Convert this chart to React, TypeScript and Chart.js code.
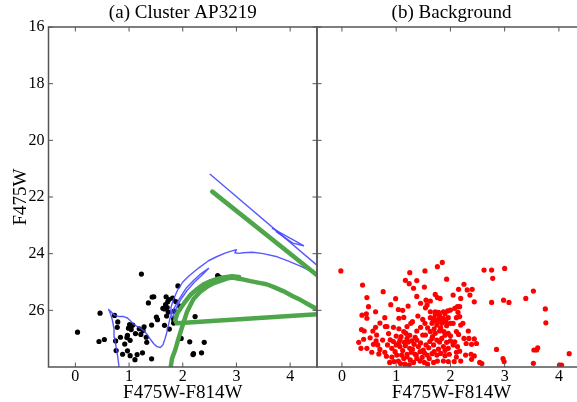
import React, { useEffect, useRef } from 'react';
import { Chart, registerables } from 'chart.js';

Chart.register(...registerables);

const FONT = "'Liberation Serif', 'Times New Roman', serif";
const SPINE = '#555555';

const panelTitles = ['(a) Cluster AP3219', '(b) Background'];
const xAxisTitle = 'F475W-F814W';
const yAxisTitle = 'F475W';
const xTickValues = [0, 1, 2, 3, 4];
const yTickValues = [16, 18, 20, 22, 24, 26];

// Cluster stars (colour, magnitude)
const clusterStars = [
  [0.04, 26.77], [0.46, 26.1], [0.44, 27.1], [0.54, 27.03], [0.73, 26.18], [0.79, 26.41],
  [0.78, 26.6], [0.75, 27.08], [0.76, 27.42], [0.84, 26.95], [0.88, 27.55], [0.97, 27.43],
  [0.92, 27.19], [0.97, 26.88], [0.96, 26.96], [1.02, 27.06], [1.04, 26.55], [1.01, 26.5],
  [1.07, 26.52], [0.99, 26.63], [1.04, 26.68], [1.12, 26.82], [1.02, 27.6], [1.11, 27.74],
  [1.15, 27.56], [1.25, 27.5], [1.19, 26.65], [1.26, 26.71], [1.28, 26.58], [1.22, 26.85],
  [1.32, 26.95], [1.33, 27.13], [1.42, 26.52], [1.42, 27.71], [1.23, 24.72], [1.36, 25.74],
  [1.43, 25.53], [1.46, 25.52], [1.51, 26.24], [1.53, 26.33], [1.63, 25.93], [1.66, 26.53],
  [1.69, 25.52], [1.68, 25.8], [1.72, 25.7], [1.74, 25.62], [1.73, 26.06], [1.75, 26.66],
  [1.83, 26.3], [1.84, 26.38], [1.83, 26.45], [1.87, 25.69], [1.81, 25.57], [1.91, 25.14],
  [1.94, 25.85], [1.97, 26.99], [2.65, 24.77], [2.69, 24.84], [2.23, 26.22], [2.13, 27.11],
  [2.4, 27.13], [2.2, 27.53], [2.19, 27.56], [2.35, 27.5], [1.66, 25.95], [1.71, 25.9],
  [1.84, 26.03], [1.7, 26.2],
];

// Isochrone 1 (thin blue)
const blueMain = [
  [0.82, 28.1], [0.79, 27.64], [0.76, 27.3], [0.73, 26.95], [0.72, 26.65], [0.69, 26.35],
  [0.66, 26.15], [0.62, 25.97], [0.68, 26.08], [0.74, 26.18], [0.82, 26.22], [0.9, 26.22],
  [0.97, 26.27], [1.03, 26.38], [1.09, 26.5], [1.15, 26.57], [1.22, 26.64], [1.28, 26.73],
  [1.34, 26.86], [1.4, 27.03], [1.46, 27.18], [1.52, 27.28], [1.58, 27.31], [1.63, 27.22],
  [1.67, 27.0], [1.7, 26.8], [1.73, 26.55], [1.76, 26.3], [1.8, 26.1], [1.86, 25.85],
  [1.95, 25.55], [2.07, 25.2], [2.2, 24.95], [2.33, 24.72], [2.48, 24.52], [2.38, 24.72],
  [2.22, 25.0], [2.08, 25.3], [1.97, 25.6], [1.9, 25.85], [1.85, 26.05], [1.82, 26.25],
  [1.78, 26.15], [1.78, 25.9], [1.83, 25.6], [1.9, 25.3], [2.0, 25.0], [2.12, 24.78],
  [2.3, 24.5], [2.48, 24.25], [2.64, 24.1], [2.8, 23.97], [2.92, 23.9], [3.0, 23.86],
  [2.97, 23.97], [3.05, 23.99], [3.12, 23.97], [3.3, 23.95], [3.5, 24.0], [3.76, 24.11],
  [3.97, 24.26], [4.19, 24.44], [4.48, 24.7], [4.6, 24.8],
];
const blueUpper = [[2.51, 21.2], [4.6, 24.57]];
const blueLoop = [[3.67, 23.11], [4.25, 23.72], [4.05, 23.63], [3.74, 23.22]];

// Isochrone 2 (thick green)
const greenMain = [
  [1.76, 28.2], [1.8, 27.7], [1.86, 27.4], [1.92, 27.0], [1.97, 26.7], [2.02, 26.4],
  [2.08, 26.05], [2.2, 25.6], [2.32, 25.35], [2.45, 25.17], [2.58, 25.04], [2.7, 24.96],
  [2.82, 24.88], [2.92, 24.84], [3.1, 24.9], [3.26, 24.97], [3.45, 25.04], [3.56, 25.08],
  [3.7, 25.18], [3.88, 25.33], [4.05, 25.5], [4.19, 25.63], [4.35, 25.8], [4.5, 25.96],
  [4.6, 26.06],
];
const greenBranch = [
  [4.6, 26.13], [1.89, 26.46], [1.86, 26.35], [1.9, 26.1], [1.96, 25.93], [2.05, 25.68],
  [2.14, 25.46], [2.26, 25.26], [2.39, 25.08], [2.52, 24.97], [2.64, 24.89], [2.78, 24.83],
  [2.92, 24.8], [3.05, 24.82],
];
const greenUpper = [[2.55, 21.81], [4.6, 24.91]];

// Background field stars
const bgBright = [
  [-0.02, 24.61], [1.85, 24.31], [1.76, 24.46], [1.53, 24.61], [1.25, 24.67], [1.93, 24.9],
  [1.17, 24.94], [1.38, 24.95], [1.24, 25.06], [0.38, 25.11], [1.52, 25.18], [1.32, 25.22],
  [0.76, 25.34], [1.72, 25.44], [1.38, 25.51], [0.46, 25.55], [1.76, 25.55], [1.81, 25.58],
  [0.99, 25.59], [1.63, 25.67], [1.55, 25.64], [1.57, 25.81], [0.49, 25.87], [1.54, 25.91],
  [1.04, 25.97], [1.12, 26.0], [1.22, 25.85], [1.45, 25.75], [0.9, 25.8], [0.62, 26.05],
  [2.62, 24.58], [2.76, 24.58], [3.0, 24.52], [2.78, 24.87], [2.25, 25.08], [2.15, 25.26],
  [2.31, 25.28], [2.4, 25.26], [2.05, 25.46], [2.19, 25.58], [2.36, 25.46], [2.44, 25.7],
  [2.76, 25.72], [2.98, 25.64], [3.08, 25.72], [3.39, 25.58], [3.53, 25.32], [3.75, 25.95],
];
const bgClump = [
  [1.63, 26.05], [1.72, 26.05], [1.78, 26.07], [1.87, 26.05], [1.95, 26.02], [2.0, 25.99],
  [0.37, 26.17], [0.45, 26.12], [0.46, 26.28], [0.79, 26.26], [1.05, 26.28], [1.14, 26.25],
  [1.49, 26.32], [1.63, 26.26], [1.69, 26.28], [1.78, 26.31], [1.87, 26.28], [1.96, 26.26],
  [0.8, 26.57], [0.83, 26.57], [1.2, 26.57], [1.27, 26.46], [1.53, 26.46], [1.66, 26.46],
  [1.75, 26.52], [1.84, 26.46], [1.93, 26.54], [2.0, 26.46], [1.72, 26.15], [1.8, 26.18],
  [1.9, 26.12], [1.68, 26.38], [1.76, 26.4], [1.85, 26.38], [1.92, 26.4], [1.4, 26.2],
  [1.3, 26.4], [0.7, 26.45], [2.13, 25.87], [2.17, 25.87], [2.08, 25.93], [2.14, 26.07],
  [2.17, 26.22], [2.11, 26.26], [2.05, 26.46], [2.19, 26.52], [2.23, 26.46], [3.76, 26.44],
];
const bgMiddle = [
  [0.36, 26.68], [0.41, 26.73], [0.57, 26.73], [1.14, 26.75], [1.18, 26.81], [1.38, 26.73],
  [1.63, 26.75], [1.72, 26.81], [1.8, 26.73], [1.88, 26.75], [1.96, 26.81], [0.64, 26.87],
  [0.86, 26.82], [1.0, 26.91], [1.09, 26.93], [1.49, 26.87], [1.54, 26.87], [1.67, 26.93],
  [0.52, 26.97], [0.31, 27.13], [0.63, 27.08], [0.89, 27.04], [1.07, 27.05], [1.15, 27.13],
  [1.2, 26.99], [1.29, 27.08], [1.38, 27.05], [1.66, 26.99], [1.75, 27.05], [1.84, 26.99],
  [1.93, 27.13], [2.0, 27.08], [1.05, 26.65], [0.95, 26.6], [1.25, 26.88], [1.35, 26.95],
  [1.45, 26.6], [1.58, 26.62], [1.7, 26.65], [1.82, 26.62], [1.9, 26.88], [2.0, 26.9],
  [0.62, 26.6], [0.4, 27.02], [0.95, 27.1], [1.05, 27.15], [1.22, 27.12], [1.45, 27.15],
  [0.75, 27.05], [1.8, 27.12], [1.62, 27.1], [2.11, 26.75], [2.15, 26.85], [2.33, 26.73],
  [2.25, 26.99], [2.34, 26.99], [2.44, 27.01], [2.48, 27.17], [2.29, 27.17], [2.39, 27.2],
  [2.08, 27.11],
];
const bgFaint = [
  [0.35, 27.34], [0.46, 27.34], [0.66, 27.22], [0.84, 27.22], [0.92, 27.34], [1.0, 27.22],
  [1.07, 27.28], [1.17, 27.25], [1.25, 27.34], [1.33, 27.2], [1.41, 27.28], [1.5, 27.4],
  [1.6, 27.32], [1.69, 27.22], [1.78, 27.37], [1.87, 27.28], [1.96, 27.34], [0.68, 27.54],
  [0.79, 27.48], [0.98, 27.46], [1.01, 27.58], [1.1, 27.58], [1.2, 27.55], [1.28, 27.48],
  [1.37, 27.58], [1.44, 27.46], [1.57, 27.58], [1.66, 27.53], [1.75, 27.58], [1.82, 27.52],
  [1.9, 27.6], [1.98, 27.55], [0.88, 27.84], [0.96, 27.81], [1.04, 27.79], [1.14, 27.7],
  [1.2, 27.64], [1.26, 27.75], [1.32, 27.84], [1.38, 27.7], [1.44, 27.79], [1.52, 27.84],
  [1.61, 27.7], [1.69, 27.84], [1.76, 27.79], [1.87, 27.79], [1.96, 27.81], [1.12, 27.42],
  [1.3, 27.38], [1.55, 27.22], [0.7, 27.38], [0.58, 27.2], [0.82, 27.62], [0.92, 27.65],
  [1.08, 27.88], [1.16, 27.9], [1.24, 27.92], [1.35, 27.55], [1.48, 27.66], [1.58, 27.9],
  [1.9, 27.42], [1.7, 27.46], [1.52, 27.5], [0.55, 27.48], [2.05, 27.22], [2.13, 27.28],
  [2.17, 27.44], [2.11, 27.48], [2.28, 27.58], [2.38, 27.55], [2.44, 27.61], [2.39, 27.73],
  [2.19, 27.79], [2.11, 27.65], [2.07, 27.81], [2.54, 27.84], [2.58, 27.88], [2.85, 27.38],
  [2.97, 27.7], [2.99, 27.81], [3.54, 27.4], [3.59, 27.4], [3.61, 27.32], [3.53, 27.87],
  [4.01, 27.93], [4.05, 27.93], [4.19, 27.53],
];

const toXY = (arr: number[][]) => arr.map(([x, y]) => ({ x, y }));

const framePlugin = {
  id: 'frame',
  afterDatasetsDraw(chart: any) {
    const { ctx, chartArea: a, scales } = chart;
    ctx.save();
    ctx.strokeStyle = SPINE;
    ctx.lineWidth = 1.5;
    ctx.strokeRect(a.left, a.top, a.right - a.left, a.bottom - a.top);
    ctx.lineWidth = 1;
    const L = 4.5;
    ctx.beginPath();
    for (const v of xTickValues) {
      const p = scales.x.getPixelForValue(v);
      ctx.moveTo(p, a.bottom); ctx.lineTo(p, a.bottom - L);
      ctx.moveTo(p, a.top); ctx.lineTo(p, a.top + L);
    }
    for (const v of yTickValues) {
      const p = scales.y.getPixelForValue(v);
      ctx.moveTo(a.left, p); ctx.lineTo(a.left + L, p);
      ctx.moveTo(a.right, p); ctx.lineTo(a.right - L, p);
    }
    ctx.stroke();
    ctx.restore();
  },
};

const lineDs = (data: number[][], color: string, width: number) => ({
  data: toXY(data),
  showLine: true,
  borderColor: color,
  borderWidth: width,
  pointRadius: 0,
  tension: 0,
  borderCapStyle: 'round',
  borderJoinStyle: 'round',
  clip: 0,
});

const pointDs = (data: number[][], color: string) => ({
  data: toXY(data),
  showLine: false,
  pointRadius: 2.6,
  pointBorderWidth: 0,
  pointBackgroundColor: color,
  backgroundColor: color,
  borderColor: color,
  clip: 0,
});

function makeOptions(title: string, showY: boolean, xMin: number, padLeft: number, padRight: number) {
  return {
    animation: false,
    responsive: false,
    maintainAspectRatio: false,
    events: [],
    layout: { autoPadding: false, padding: { left: padLeft, right: padRight, top: 0, bottom: 0 } },
    plugins: {
      legend: { display: false },
      tooltip: { enabled: false },
      title: {
        display: true,
        text: title,
        fullSize: false,
        color: '#000',
        font: { family: FONT, size: 19, weight: 'normal' },
        padding: { top: 2, bottom: 2.2 },
      },
    },
    scales: {
      x: {
        type: 'linear',
        min: xMin,
        max: 4.5,
        afterBuildTicks: (s: any) => { s.ticks = xTickValues.map((v) => ({ value: v })); },
        afterFit: (s: any) => { s.height = 43; },
        grid: { display: false, drawTicks: false },
        border: { display: false },
        ticks: { color: '#000', font: { family: FONT, size: 16 }, padding: 0, maxRotation: 0, autoSkip: false },
        title: {
          display: true,
          text: xAxisTitle,
          color: '#000',
          font: { family: FONT, size: 19, weight: 'normal' },
          padding: { top: 0, bottom: 6 },
        },
      },
      y: {
        type: 'linear',
        display: showY,
        reverse: true,
        min: 16,
        max: 28,
        afterBuildTicks: (s: any) => { s.ticks = yTickValues.map((v) => ({ value: v })); },
        afterFit: (s: any) => { s.width = showY ? 48.5 : 0; },
        grid: { display: false, drawTicks: false },
        border: { display: false },
        ticks: { color: '#000', font: { family: FONT, size: 16 }, padding: 4 },
        title: {
          display: true,
          text: yAxisTitle,
          color: '#000',
          font: { family: FONT, size: 19, weight: 'normal' },
          padding: { top: 9.5, bottom: 0 },
        },
      },
    },
  };
}

const GREEN = '#4ea64b';
const BLUE = 'rgba(70,70,255,0.9)';

export default function App() {
  const leftRef = useRef<HTMLCanvasElement>(null);
  const rightRef = useRef<HTMLCanvasElement>(null);

  useEffect(() => {
    const left = new Chart(leftRef.current as HTMLCanvasElement, {
      type: 'scatter',
      data: {
        datasets: [
          lineDs(greenMain, GREEN, 4.5),
          lineDs(greenBranch, GREEN, 4.5),
          lineDs(greenUpper, GREEN, 4.5),
          lineDs(blueMain, BLUE, 1.4),
          lineDs(blueUpper, BLUE, 1.4),
          lineDs(blueLoop, BLUE, 1.4),
          pointDs(clusterStars, '#000000'),
        ] as any,
      },
      options: makeOptions(panelTitles[0], true, -0.5, 0, 23) as any,
      plugins: [framePlugin],
    });
    const right = new Chart(rightRef.current as HTMLCanvasElement, {
      type: 'scatter',
      data: {
        datasets: [
          pointDs(bgBright, '#ff0000'),
          pointDs(bgClump, '#ff0000'),
          pointDs(bgMiddle, '#ff0000'),
          pointDs(bgFaint, '#ff0000'),
        ] as any,
      },
      options: makeOptions(panelTitles[1], false, -0.46, 17, 14) as any,
      plugins: [framePlugin],
    });
    return () => {
      left.destroy();
      right.destroy();
    };
  }, []);

  return (
    <div style={{ position: 'fixed', left: 0, top: 0, width: 577, height: 402, overflow: 'hidden', background: '#fff' }}>
      <canvas ref={leftRef} width={340} height={410} style={{ position: 'absolute', left: 0, top: 0, width: 340, height: 410 }} />
      <canvas ref={rightRef} width={300} height={410} style={{ position: 'absolute', left: 300, top: 0, width: 300, height: 410 }} />
    </div>
  );
}
